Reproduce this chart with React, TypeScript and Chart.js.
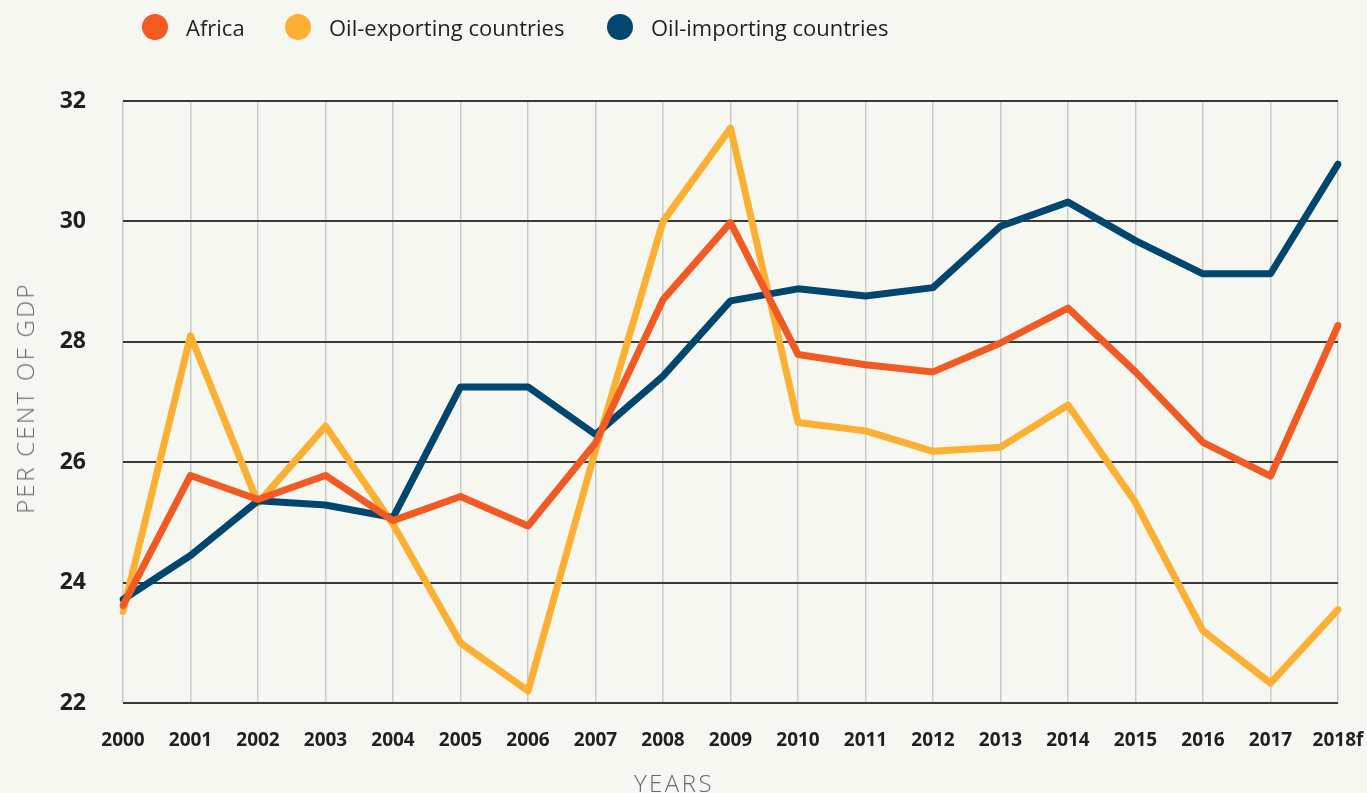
import React, { useEffect, useRef } from "react";
import { Chart, registerables } from "chart.js";

Chart.register(...registerables);

const years = ["2000", "2001", "2002", "2003", "2004", "2005", "2006", "2007", "2008", "2009", "2010", "2011", "2012", "2013", "2014", "2015", "2016", "2017", "2018f"];
const africa = [23.62, 25.78, 25.38, 25.78, 25.03, 25.43, 24.94, 26.32, 28.7, 29.98, 27.79, 27.62, 27.5, 27.98, 28.56, 27.5, 26.33, 25.77, 28.27];
const oilExporting = [23.52, 28.1, 25.32, 26.6, 24.97, 23.0, 22.2, 26.2, 30.0, 31.55, 26.66, 26.52, 26.18, 26.25, 26.95, 25.33, 23.2, 22.33, 23.55];
const oilImporting = [23.72, 24.45, 25.36, 25.29, 25.08, 27.25, 27.25, 26.46, 27.43, 28.68, 28.88, 28.76, 28.9, 29.92, 30.32, 29.68, 29.13, 29.13, 30.95];
const yTicks = [22, 24, 26, 28, 30, 32];

const seriesNames = ["Africa", "Oil-exporting countries", "Oil-importing countries"];
const seriesColors = ["#f15a22", "#fbb034", "#00466e"];

const W = 1367;
const H = 793;
const BG = "#f7f7f2";
const TEXT = "#231f20";

export default function App() {
  const ref = useRef<HTMLCanvasElement | null>(null);

  useEffect(() => {
    if (!ref.current) return;
    const chart = new Chart(ref.current, {
      type: "line",
      data: {
        labels: years,
        datasets: [
          { label: seriesNames[0], data: africa, borderColor: seriesColors[0], backgroundColor: seriesColors[0], order: 0 },
          { label: seriesNames[1], data: oilExporting, borderColor: seriesColors[1], backgroundColor: seriesColors[1], order: 2 },
          { label: seriesNames[2], data: oilImporting, borderColor: seriesColors[2], backgroundColor: seriesColors[2], order: 1 },
        ].map((d) => ({
          ...d,
          borderWidth: 7,
          pointRadius: 0,
          pointHoverRadius: 0,
          tension: 0,
          borderCapStyle: "round" as const,
          borderJoinStyle: "round" as const,
          fill: false,
        })),
      },
      options: {
        responsive: false,
        maintainAspectRatio: false,
        animation: false,
        layout: { padding: { top: 101, right: 29, left: 0, bottom: 0 } },
        plugins: {
          legend: { display: false },
          tooltip: { enabled: false },
          title: { display: false },
        },
        scales: {
          x: {
            type: "category",
            offset: false,
            grid: { color: "#c9c9c9", lineWidth: 1.5, drawTicks: false },
            border: { display: false },
            ticks: {
              color: TEXT,
              font: { family: "'Open Sans', sans-serif", size: 19, weight: "bold" },
              padding: 26,
              maxRotation: 0,
              autoSkip: false,
            },
            afterFit: (s: any) => {
              s.height = 90;
              s.paddingLeft = 0;
              s.paddingRight = 0;
            },
          },
          y: {
            min: 22,
            max: 32,
            afterBuildTicks: (s: any) => {
              s.ticks = yTicks.map((v) => ({ value: v }));
            },
            grid: { color: "#3a3a3a", lineWidth: 2, drawTicks: false },
            border: { display: false },
            ticks: {
              color: TEXT,
              font: { family: "'Open Sans', sans-serif", size: 23, weight: "bold" },
              padding: 37,
            },
            afterFit: (s: any) => {
              s.width = 123;
              s.paddingTop = 0;
              s.paddingBottom = 0;
            },
          },
        },
      },
    });
    return () => chart.destroy();
  }, []);

  const legendLefts = [142, 285, 607];

  return (
    <div style={{ position: "fixed", left: 0, top: 0, width: W, height: H, background: BG, overflow: "hidden" }}>
      <canvas ref={ref} width={W} height={H} style={{ position: "absolute", left: 0, top: 0, width: W, height: H }} />
      {seriesNames.map((name, i) => (
        <div
          key={name}
          style={{
            position: "absolute",
            left: legendLefts[i],
            top: 14,
            height: 26,
            display: "flex",
            alignItems: "center",
            fontFamily: "'Open Sans', sans-serif",
            fontSize: 22,
            color: TEXT,
            whiteSpace: "nowrap",
          }}
        >
          <span style={{ width: 26, height: 26, borderRadius: "50%", background: seriesColors[i], display: "inline-block", marginRight: 18 }} />
          <span style={{ lineHeight: "26px" }}>{name}</span>
        </div>
      ))}
      <div
        style={{
          position: "absolute",
          left: 674,
          top: 771,
          transform: "translateX(-50%)",
          fontFamily: "'Open Sans', sans-serif",
          fontWeight: 300,
          fontSize: 24,
          lineHeight: "24px",
          letterSpacing: "2.5px",
          color: "#6a6a6a",
          whiteSpace: "nowrap",
        }}
      >
        YEARS
      </div>
      <div
        style={{
          position: "absolute",
          left: 24.5,
          top: 397.5,
          transform: "translate(-50%, -50%) rotate(-90deg)",
          fontFamily: "'Open Sans', sans-serif",
          fontWeight: 300,
          fontSize: 24,
          lineHeight: "24px",
          letterSpacing: "2.3px",
          color: "#6a6a6a",
          whiteSpace: "nowrap",
        }}
      >
        PER CENT OF GDP
      </div>
    </div>
  );
}
